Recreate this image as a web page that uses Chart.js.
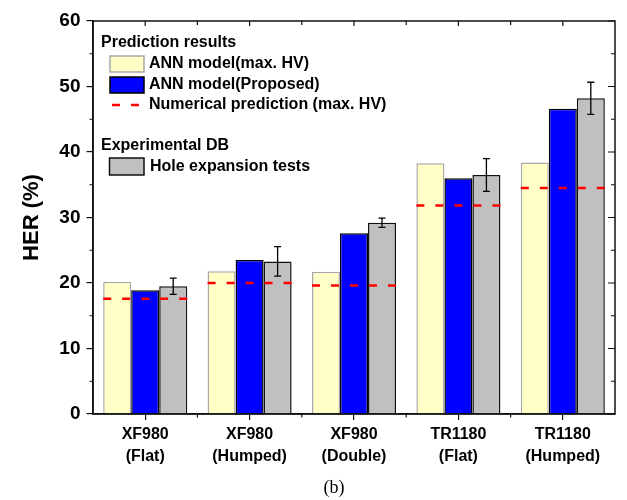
<!DOCTYPE html>
<html>
<head>
<meta charset="utf-8">
<script src="https://cdn.jsdelivr.net/npm/chart.js@4/dist/chart.umd.min.js"></script>
<style>
html,body{margin:0;padding:0;background:#fff;}
#wrap{width:627px;height:500px;position:relative;}
</style>
</head>
<body>
<div id="wrap"><canvas id="c" width="627" height="500"></canvas></div>
<script>
// ---- data ----
const categories = [['XF980','(Flat)'],['XF980','(Humped)'],['XF980','(Double)'],['TR1180','(Flat)'],['TR1180','(Humped)']];
const annMaxHV    = [20.2, 21.8, 21.7, 38.3, 38.4];
const annProposed = [18.9, 23.5, 27.6, 36.0, 46.6];
const holeExp     = [19.5, 23.3, 29.2, 36.5, 48.2];
const holeErr     = [1.25, 2.25, 0.7, 2.5, 2.45];
const numerical   = [17.6, 20.0, 19.6, 31.85, 34.5];
const yTicks      = [0, 10, 20, 30, 40, 50, 60];
const seriesNames = ['ANN model(max. HV)', 'ANN model(Proposed)', 'Numerical prediction (max. HV)', 'Hole expansion tests'];
const legendTitles = ['Prediction results', 'Experimental DB'];
const yTitle = 'HER (%)';
const caption = '(b)';

const GROUP = 0.805;
const toXY = arr => arr.map((v, i) => ({x: i, y: v}));
const redPts = [];
numerical.forEach((v, i) => {
  redPts.push({x: i - GROUP/2, y: v}, {x: i + GROUP/2, y: v}, {x: i + 0.5, y: null});
});

Chart.defaults.font.family = '"Liberation Sans", Arial, sans-serif';
Chart.defaults.color = '#000';

const FONT = '"Liberation Sans", Arial, sans-serif';
const AX = '#111';

const decor = {
  id: 'decor',
  afterDatasetsDraw(chart) {
    const ctx = chart.ctx;
    const meta = chart.getDatasetMeta(2);
    const y = chart.scales.y;
    ctx.save();
    ctx.strokeStyle = '#000';
    ctx.lineWidth = 1.3;
    meta.data.forEach((bar, i) => {
      const cx = bar.x;
      const top = y.getPixelForValue(holeExp[i] + holeErr[i]);
      const bot = y.getPixelForValue(holeExp[i] - holeErr[i]);
      ctx.beginPath();
      ctx.moveTo(cx, top); ctx.lineTo(cx, bot);
      ctx.moveTo(cx - 3.5, top); ctx.lineTo(cx + 3.5, top);
      ctx.moveTo(cx - 3.5, bot); ctx.lineTo(cx + 3.5, bot);
      ctx.stroke();
    });
    ctx.restore();
  },
  afterDraw(chart) {
    const ctx = chart.ctx;
    const a = chart.chartArea;
    const x = chart.scales.x, y = chart.scales.y;
    ctx.save();
    ctx.strokeStyle = AX;
    ctx.lineWidth = 1.5;
    ctx.strokeRect(a.left, a.top, a.right - a.left, a.bottom - a.top);
    ctx.lineWidth = 1.2;
    ctx.beginPath();
    for (let v = 0; v <= 60; v += 5) {
      const py = y.getPixelForValue(v);
      const major = v % 10 === 0;
      if (!major) { ctx.moveTo(a.left - 3.5, py); ctx.lineTo(a.left, py); }
      ctx.moveTo(a.right, py); ctx.lineTo(a.right - (major ? 7 : 4), py);
    }
    const n = categories.length;
    for (let i = 0; i < n; i++) {
      const px = x.getPixelForValue(i);
      ctx.moveTo(px, a.top); ctx.lineTo(px, a.top + 5);
    }
    for (let i = 1; i < n; i++) {
      const px = x.getPixelForValue(i - 0.5);
      ctx.moveTo(px, a.bottom); ctx.lineTo(px, a.bottom + 3.5);
      ctx.moveTo(px, a.top); ctx.lineTo(px, a.top + 4);
    }
    ctx.stroke();

    // legend
    ctx.font = 'bold 16px ' + FONT;
    ctx.textBaseline = 'middle';
    ctx.textAlign = 'left';
    ctx.fillStyle = '#000';
    ctx.fillText(legendTitles[0], 101, 43);
    ctx.fillText(legendTitles[1], 101, 146);
    const sw = (x0, y0, w, h, fill, stroke) => {
      ctx.fillStyle = fill; ctx.fillRect(x0, y0, w, h);
      ctx.strokeStyle = stroke; ctx.lineWidth = 1.5; ctx.strokeRect(x0, y0, w, h);
    };
    const ds = chart.data.datasets;
    sw(110, 56, 34, 16, ds[0].backgroundColor, ds[0].borderColor);
    sw(110, 77, 34, 16, ds[1].backgroundColor, ds[1].borderColor);
    sw(109.5, 158, 34.5, 17, ds[2].backgroundColor, ds[2].borderColor);
    ctx.strokeStyle = ds[3].borderColor;
    ctx.lineWidth = 2.5;
    ctx.setLineDash([8, 11]);
    ctx.beginPath(); ctx.moveTo(112, 105); ctx.lineTo(140, 105); ctx.stroke();
    ctx.setLineDash([]);
    ctx.fillStyle = '#000';
    ctx.fillText(seriesNames[0], 149, 64);
    ctx.fillText(seriesNames[1], 149, 85);
    ctx.fillText(seriesNames[2], 149, 105);
    ctx.fillText(seriesNames[3], 150, 167);

    ctx.font = '18px "Liberation Serif", "Times New Roman", serif';
    ctx.textAlign = 'center';
    ctx.fillText(caption, 334, 488);
    ctx.restore();
  }
};

const barCommon = { categoryPercentage: GROUP, barPercentage: 1.0, borderWidth: 1.5, order: 1, xAxisID: 'x', yAxisID: 'y' };

new Chart(document.getElementById('c'), {
  type: 'bar',
  data: {
    datasets: [
      Object.assign({ label: seriesNames[0], data: toXY(annMaxHV), backgroundColor: '#ffffc6', borderColor: '#a9a9a9' }, barCommon),
      Object.assign({ label: seriesNames[1], data: toXY(annProposed), backgroundColor: '#0000ff', borderColor: '#000000' }, barCommon),
      Object.assign({ label: seriesNames[3], data: toXY(holeExp), backgroundColor: '#c0c0c0', borderColor: '#111111' }, barCommon),
      {
        type: 'line', label: seriesNames[2], data: redPts, xAxisID: 'x', yAxisID: 'y',
        borderColor: '#ff0000', borderWidth: 2.5, borderDash: [8, 11], pointRadius: 0,
        fill: false, spanGaps: false, order: 0, tension: 0
      }
    ]
  },
  options: {
    responsive: false,
    animation: false,
    events: [],
    layout: { padding: { top: 21, right: 12, bottom: 0, left: 0 } },
    plugins: { legend: { display: false }, tooltip: { enabled: false }, title: { display: false } },
    scales: {
      x: {
        type: 'linear',
        min: -0.5, max: 4.5,
        offset: false,
        afterBuildTicks: s => { s.ticks = categories.map((c, i) => ({ value: i })); },
        grid: { display: true, drawOnChartArea: false, drawTicks: true, tickLength: 6, color: AX, lineWidth: 1.2, offset: false },
        border: { display: true, color: AX, width: 1.5 },
        ticks: {
          font: { size: 16, weight: 'bold', lineHeight: 1.375 }, color: '#000', padding: 4, maxRotation: 0, autoSkip: false,
          callback: v => categories[v]
        },
        afterFit: s => { s.height = 86; }
      },
      y: {
        min: 0, max: 60,
        afterBuildTicks: s => { s.ticks = yTicks.map(v => ({ value: v })); },
        grid: { drawOnChartArea: false, drawTicks: true, tickLength: 6.5, color: AX, lineWidth: 1.2 },
        border: { display: true, color: AX, width: 1.5 },
        ticks: { font: { size: 19, weight: 'bold' }, color: '#000', padding: 6 },
        title: { display: true, text: yTitle, font: { size: 22, weight: 'bold' }, color: '#000', padding: { top: 19, bottom: 0 } },
        afterFit: s => { s.width = 93; }
      }
    }
  },
  plugins: [decor]
});
</script>
</body>
</html>
